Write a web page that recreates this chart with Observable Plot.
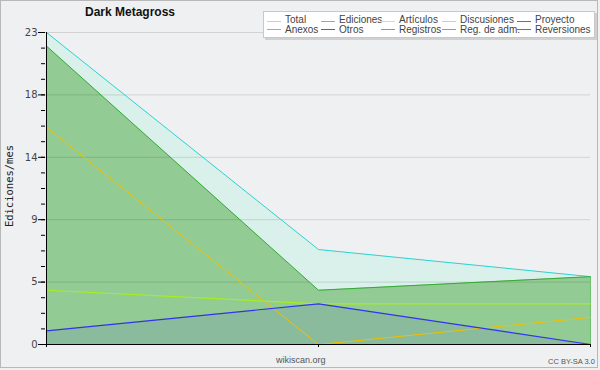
<!DOCTYPE html>
<html><head><meta charset="utf-8">
<script src="https://cdn.jsdelivr.net/npm/d3@7"></script>
<script src="https://cdn.jsdelivr.net/npm/@observablehq/plot@0.6"></script>
<style>
html,body{margin:0;padding:0;background:#eff0f1;}
#wrap{position:relative;width:600px;height:370px;overflow:hidden;font-family:"Liberation Sans",sans-serif;}
#border{position:absolute;left:0;top:0;width:596px;height:366px;border:1px solid #b8b8b8;pointer-events:none;}
#title{position:absolute;left:85px;top:5px;font-weight:bold;font-size:12px;color:#111;}
#legend{position:absolute;left:263px;top:11px;width:330px;height:25px;background:#fff;border:1px solid #c8c8c8;box-shadow:2px 2px 0 #d0d0d0;}
.li{position:absolute;font-size:10px;color:#444;white-space:nowrap;line-height:10px;}
.sw{position:absolute;height:1px;width:14px;}
#src{position:absolute;left:276px;top:355px;font-size:9px;color:#555;}
#lic{position:absolute;left:548px;top:357px;font-size:7.5px;color:#555;}
#ylab{position:absolute;left:9px;top:186px;font-family:"DejaVu Sans Mono",monospace;font-size:10.5px;color:#222;transform:translate(-50%,-50%) rotate(-90deg);white-space:nowrap;}
</style></head>
<body><div id="wrap"><div id="chart"></div>
<div id="title">Dark Metagross</div>
<div id="legend"></div>
<div id="src">wikiscan.org</div>
<div id="lic">CC BY-SA 3.0</div>
<div id="ylab">Ediciones/mes</div>
<div id="border"></div>
</div>
<script>
const months = ["m1", "m2", "m3"];
const total = [23, 7, 5];
const ediciones = [22, 4, 5];
const articulos = [4, 3, 3];
const discusiones = [16, 0, 2];
const registros = [1, 3, 0];
const yTicks = [0, 4.6, 9.2, 13.8, 18.4, 23];
const yMinor = d3.range(0, 24, 1.15);
const legendNames = ["Total","Ediciones","Artículos","Discusiones","Proyecto","Anexos","Otros","Registros","Reg. de adm.","Reversiones"];
const legendColors = ["#a0e0e0","#80c080","#c8f078","#f0d068","#707070","#f09060","#8048d0","#8090f0","#d070e0","#e04040"];

const rows = (arr) => months.map((m, i) => ({m, v: arr[i]}));

const chart = Plot.plot({
  width: 600, height: 370,
  marginLeft: 45, marginRight: 10, marginTop: 32, marginBottom: 26,
  style: {background: "transparent", fontFamily: "DejaVu Sans, sans-serif", fontSize: "10px", color: "#444"},
  x: {type: "point", domain: months, padding: 0},
  y: {domain: [0, 23]},
  marks: [
    Plot.areaY(rows(total), {x: "m", y: "v", fill: "#d9f1ea"}),
    Plot.areaY(rows(ediciones), {x: "m", y: "v", fill: "#93cb94"}),
    Plot.areaY(rows(registros), {x: "m", y: "v", fill: "#3333ee", fillOpacity: 0.1}),
    Plot.ruleY(yTicks.slice(1), {stroke: "#000", strokeOpacity: 0.12}),
    Plot.lineY(rows(total), {x: "m", y: "v", stroke: "#2fd0d0", strokeWidth: 1}),
    Plot.lineY(rows(ediciones), {x: "m", y: "v", stroke: "#33aa33", strokeWidth: 1}),
    Plot.ruleX([months[2]], {y1: 0, y2: ediciones[2], stroke: "#6fbf6f"}),
    Plot.lineY(rows(articulos), {x: "m", y: "v", stroke: "#a8ee20", strokeWidth: 1.2}),
    Plot.lineY(rows(discusiones), {x: "m", y: "v", stroke: "#f0c000", strokeWidth: 1}),
    Plot.lineY(rows(registros), {x: "m", y: "v", stroke: "#3333ee", strokeWidth: 1.2}),
    Plot.axisY({ticks: yMinor, tickSize: 4, text: null, label: null, stroke: "#000"}),
    Plot.axisY({ticks: yTicks, tickSize: 7, tickPadding: 1, tickFormat: d => Math.round(d), label: null, fill: "#444", stroke: "#000", fontSize: 10}),
    Plot.axisX({ticks: months, tickSize: 3, text: null, label: null, stroke: "#000"}),
    Plot.ruleX([months[0]], {stroke: "#000"}),
    Plot.ruleY([0], {stroke: "#000"})
  ]
});
document.getElementById("chart").appendChild(chart);

const lg = document.getElementById("legend");
const colX = [3, 57, 117, 178, 253];
legendNames.forEach((n, i) => {
  const r = Math.floor(i / 5), c = i % 5;
  const sw = document.createElement("div");
  sw.className = "sw";
  sw.style.left = colX[c] + "px";
  sw.style.top = (r === 0 ? 9 : 17) + "px";
  sw.style.background = legendColors[i];
  lg.appendChild(sw);
  const t = document.createElement("div");
  t.className = "li";
  t.textContent = n;
  t.style.left = (colX[c] + 18) + "px";
  t.style.top = (r === 0 ? 3 : 13) + "px";
  lg.appendChild(t);
});
</script></body></html>
